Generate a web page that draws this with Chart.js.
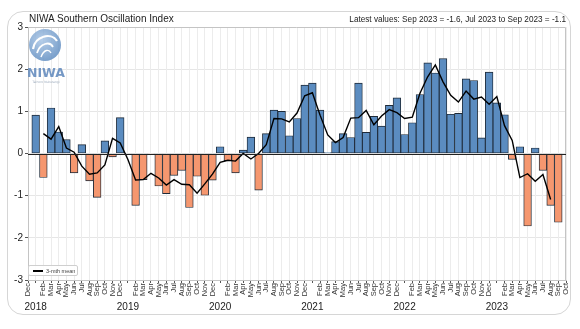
<!DOCTYPE html>
<html>
<head>
<meta charset="utf-8">
<script src="https://cdn.jsdelivr.net/npm/chart.js@4.4.0/dist/chart.umd.min.js"></script>
<style>
  html, body { margin: 0; padding: 0; background: #fff; }
  #wrap { position: relative; width: 580px; height: 329px; overflow: hidden;
          font-family: "Liberation Sans", Arial, sans-serif; }
  #frame { position: absolute; left: 7px; top: 11px; width: 564px; height: 304px;
           border: 1px solid #d6d6d6; border-radius: 16px; box-sizing: border-box; }
  #soi { position: absolute; left: 0; top: 0; }
  .title { position: absolute; left: 29px; top: 13px; font-size: 10px; color: #222; white-space: nowrap; }
  .latest { position: absolute; right: 14px; top: 15px; font-size: 8.2px; color: #222; white-space: nowrap; }
  #logo { position: absolute; left: 26px; top: 27px; opacity: 0.85; }
  #legend { position: absolute; left: 28px; top: 265px; width: 50px; height: 11px;
            border: 1px solid #cfcfcf; border-radius: 2px; background: rgba(255,255,255,0.9);
            box-sizing: border-box; }
  #legend .swatch { position: absolute; left: 4px; top: 4px; width: 10px; height: 1.6px; background: #000; }
  #legend .txt { position: absolute; left: 17px; top: 1.5px; font-size: 5.5px; color: #444; white-space: nowrap; }
</style>
</head>
<body>
<div id="wrap">
  <div id="frame"></div>
  <canvas id="soi" width="580" height="329"></canvas>
  <div class="title">NIWA Southern Oscillation Index</div>
  <div class="latest">Latest values: Sep 2023 = -1.6, Jul 2023 to Sep 2023 = -1.1</div>
  <svg id="logo" width="40" height="60" viewBox="0 0 40 60">
    <defs>
      <radialGradient id="g" cx="40%" cy="35%" r="70%">
        <stop offset="0%" stop-color="#a9c6e6"/>
        <stop offset="100%" stop-color="#5f8cc0"/>
      </radialGradient>
    </defs>
    <circle cx="19" cy="18" r="16" fill="url(#g)"/>
    <path d="M7 22 C 9 9, 25 5, 31 14" stroke="#fff" stroke-width="2.2" fill="none"/>
    <path d="M11 26 C 14 16, 24 14, 27 20" stroke="#fff" stroke-width="1.8" fill="none"/>
    <path d="M15 30 C 18 22, 23 22, 25 26" stroke="#fff" stroke-width="1.4" fill="none"/>
    <text x="20" y="50" text-anchor="middle" font-family="DejaVu Sans, sans-serif" font-weight="bold"
          font-size="12.5" fill="#5d86bb">NIWA</text>
    <text x="20" y="56" text-anchor="middle" font-family="DejaVu Sans, sans-serif"
          font-size="3" fill="#8a9bb0">Taihoro Nukurangi</text>
  </svg>
  <div id="legend"><span class="swatch"></span><span class="txt">3-mth mean</span></div>
</div>
<script>
// Month axis runs from Dec 2017 to Oct 2023
const monthAbbr = ['Jan','Feb','Mar','Apr','May','Jun','Jul','Aug','Sep','Oct','Nov','Dec'];
const periods = [];
for (let y = 2017, m = 11; y < 2023 || (y === 2023 && m <= 9); ) {
  periods.push({ m: monthAbbr[m], y: y });
  m++; if (m > 11) { m = 0; y++; }
}
const categories = periods.map(p => p.m + ' ' + p.y);

// Monthly SOI, Jan 2018 .. Sep 2023 (nulls at the axis ends)
const soiMonthly = [
  null,
  0.91, -0.57, 1.08, 0.51, 0.33, -0.46, 0.21, -0.65, -1.04, 0.30, -0.08, 0.85,   // 2018
  -0.03, -1.23, -0.62, -0.02, -0.77, -0.95, -0.52, -0.40, -1.28, -0.54, -0.99, -0.63, // 2019
  0.16, -0.17, -0.46, 0.08, 0.39, -0.87, 0.47, 1.03, 1.00, 0.42, 0.83, 1.62,    // 2020
  1.67, 1.03, 0.02, 0.28, 0.47, 0.38, 1.67, 0.50, 0.88, 0.65, 1.14, 1.32,       // 2021
  0.45, 0.73, 1.40, 2.15, 1.91, 2.25, 0.93, 0.95, 1.77, 1.73, 0.37, 1.93,       // 2022
  1.20, 0.92, -0.14, 0.16, -1.72, 0.13, -0.40, -1.23, -1.63,                    // 2023
  null
];

// Centred 3-month mean, Feb 2018 .. Aug 2023
const soi3MonthMean = [
  null, null,
  0.47, 0.34, 0.64, 0.13, 0.03, -0.30, -0.49, -0.46, -0.27, 0.36, 0.25,          // Feb-Dec 2018
  -0.14, -0.63, -0.62, -0.47, -0.58, -0.75, -0.62, -0.73, -0.74, -0.94, -0.72, -0.49, // 2019
  -0.21, -0.16, -0.18, 0.00, -0.13, 0.00, 0.21, 0.83, 0.82, 0.75, 0.96, 1.37,   // 2020
  1.44, 0.91, 0.44, 0.26, 0.38, 0.84, 0.85, 1.02, 0.68, 0.89, 1.04, 0.97,       // 2021
  0.83, 0.86, 1.43, 1.82, 2.10, 1.70, 1.38, 1.22, 1.48, 1.29, 1.34, 1.17,       // 2022
  1.35, 0.66, 0.31, -0.57, -0.48, -0.66, -0.50, -1.09,                          // Jan-Aug 2023
  null, null
];

const yTicks = [-3, -2, -1, 0, 1, 2, 3];

const posColor = '#5b8cc0';
const negColor = '#f5976f';

Chart.defaults.font.family = "'Liberation Sans', Arial, sans-serif";
Chart.defaults.color = '#333';

// top/right frame lines and the zero line over the bars
const frameLines = {
  id: 'frameLines',
  afterDatasetsDraw(chart) {
    const { ctx, chartArea: a, scales } = chart;
    ctx.save();
    ctx.strokeStyle = '#c4c4c4';
    ctx.lineWidth = 1;
    ctx.beginPath();
    ctx.moveTo(a.left, a.top + 0.5);
    ctx.lineTo(a.right - 0.5, a.top + 0.5);
    ctx.lineTo(a.right - 0.5, a.bottom);
    ctx.stroke();
    const y0 = Math.round(scales.y.getPixelForValue(0)) + 0.5;
    ctx.strokeStyle = '#222';
    ctx.beginPath();
    ctx.moveTo(a.left, y0);
    ctx.lineTo(a.right, y0);
    ctx.stroke();
    ctx.restore();
  }
};

new Chart(document.getElementById('soi'), {
  type: 'bar',
  data: {
    labels: categories,
    datasets: [
      {
        type: 'line',
        label: '3-mth mean',
        data: soi3MonthMean,
        borderColor: '#000',
        borderWidth: 1.4,
        pointRadius: 0,
        tension: 0,
        order: 0,
        spanGaps: false
      },
      {
        type: 'bar',
        label: 'SOI',
        data: soiMonthly,
        backgroundColor: c => (c.raw !== null && c.raw < 0) ? negColor : posColor,
        borderColor: '#1e2a38',
        borderWidth: 0.9,
        borderSkipped: false,
        barPercentage: 1,
        categoryPercentage: 1,
        order: 1
      }
    ]
  },
  options: {
    responsive: false,
    devicePixelRatio: 1,
    animation: false,
    layout: { padding: { left: 8, top: 27, right: 14, bottom: 16 } },
    plugins: { legend: { display: false }, tooltip: { enabled: false } },
    scales: {
      y: {
        min: -3, max: 3,
        afterFit: s => { s.width = 20; },
        afterBuildTicks: s => { s.ticks = yTicks.map(v => ({ value: v })); },
        ticks: { font: { size: 10 }, padding: 2, color: '#222' },
        grid: { color: c => c.tick && (c.tick.value === 3 || c.tick.value === -3) ? 'rgba(0,0,0,0)' : '#e6e6e6',
                tickLength: 3, tickColor: '#555' },
        border: { color: '#c4c4c4' }
      },
      x: {
        offset: false,
        weight: 0,
        afterFit: s => { s.height = 21; },
        ticks: {
          autoSkip: false, minRotation: 90, maxRotation: 90,
          font: { size: 7.5 }, padding: 0, color: '#333',
          callback: (v, i) => periods[i].m === 'Jan' ? '' : periods[i].m
        },
        grid: { offset: false, color: '#ececec', tickLength: 3, tickColor: '#555' },
        border: { color: '#c4c4c4' }
      },
      x2: {
        type: 'category',
        position: 'bottom',
        offset: false,
        weight: 1,
        afterFit: s => { s.height = 12; },
        ticks: {
          autoSkip: false, minRotation: 0, maxRotation: 0,
          font: { size: 10 }, padding: 0, color: '#222',
          callback: (v, i) => periods[i].m === 'Jan' ? String(periods[i].y) : ''
        },
        grid: { display: false, drawTicks: false, tickLength: 0, offset: false },
        border: { display: false }
      }
    }
  },
  plugins: [frameLines]
});
</script>
</body>
</html>
